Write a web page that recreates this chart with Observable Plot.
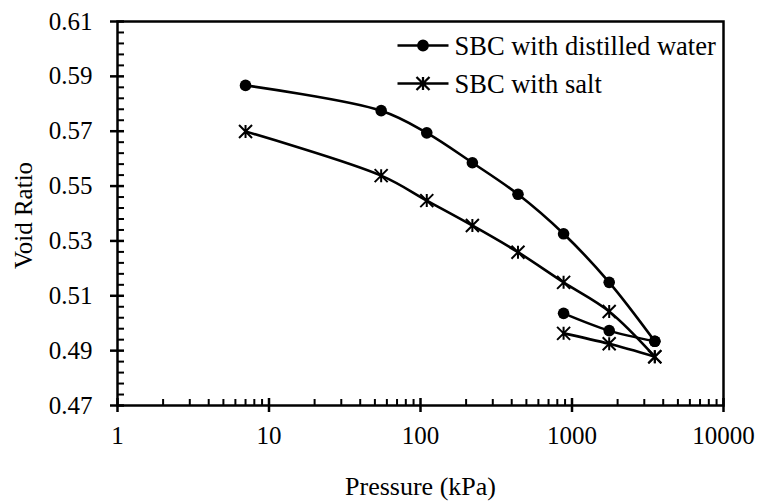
<!DOCTYPE html>
<html><head><meta charset="utf-8">
<script src="https://cdn.jsdelivr.net/npm/d3@7"></script>
<script src="https://cdn.jsdelivr.net/npm/@observablehq/plot@0.6"></script>
<style>
body{margin:0;background:#fff;}
#chart{width:760px;height:504px;}
</style></head><body><div id="chart"></div>
<script>
// ---- data ----
const pressureLoad   = [7, 55, 110, 220, 440, 880, 1760, 3520];
const pressureUnload = [3520, 1760, 880];
const distilledLoad   = [0.5867, 0.5775, 0.5694, 0.5585, 0.5470, 0.5326, 0.5149, 0.4934];
const distilledUnload = [0.4934, 0.4973, 0.5036];
const saltLoad   = [0.5699, 0.5538, 0.5447, 0.5356, 0.5259, 0.5149, 0.5043, 0.4878];
const saltUnload = [0.4878, 0.4925, 0.4963];
const seriesNames = ["SBC with distilled water", "SBC with salt"];
const xTicks = [1, 10, 100, 1000, 10000];
const yTicks = [0.47, 0.49, 0.51, 0.53, 0.55, 0.57, 0.59, 0.61];
const xLabel = "Pressure (kPa)";
const yLabel = "Void Ratio";

// ---- build table ----
const rows = [];
function add(series, branch, xs, ys) {
  xs.forEach((p, i) => rows.push({series, branch, key: series + "-" + branch, p, e: ys[i]}));
}
add(seriesNames[0], "load", pressureLoad, distilledLoad);
add(seriesNames[0], "unload", pressureUnload, distilledUnload);
add(seriesNames[1], "load", pressureLoad, saltLoad);
add(seriesNames[1], "unload", pressureUnload, saltUnload);
const distilledRows = rows.filter(d => d.series === seriesNames[0]);
const saltRows = rows.filter(d => d.series === seriesNames[1]);

const xMinor = [];
for (let k = 0; k < 4; k++) for (let m = 2; m <= 9; m++) xMinor.push(m * Math.pow(10, k));
const yMinor = d3.range(0, 36).map(i => +(0.47 + i * 0.004).toFixed(3)).filter(v => !yTicks.some(t => Math.abs(t - v) < 1e-6));

// ---- layout ----
const W = 760, H = 504, mL = 117, mR = 37, mT = 21, mB = 99;
const pw = W - mL - mR, ph = H - mT - mB;
const font = "Liberation Serif, Times New Roman, serif";

const star = {
  draw(ctx, size) {
    const r = Math.sqrt(size / Math.PI);
    ctx.moveTo(0, -r); ctx.lineTo(0, r);
    ctx.moveTo(-r, -r); ctx.lineTo(r, r);
    ctx.moveTo(-r, r); ctx.lineTo(r, -r);
  }
};
// legend glyphs: short line with the series marker in its middle
const legendDot = {
  draw(ctx) {
    ctx.moveTo(-25.5, 0); ctx.lineTo(25.5, 0);
    ctx.moveTo(4.6, 0); ctx.arc(0, 0, 4.6, 0, 2 * Math.PI);
  }
};
const legendStar = {
  draw(ctx) {
    const r = 6.5;
    ctx.moveTo(-25.5, 0); ctx.lineTo(25.5, 0);
    ctx.moveTo(0, -r); ctx.lineTo(0, r);
    ctx.moveTo(-r, -r); ctx.lineTo(r, r);
    ctx.moveTo(-r, r); ctx.lineTo(r, -r);
  }
};
const curve = d3.curveCatmullRom.alpha(0.5);
const legX = 397 - mL, legY = 45 - mT, legStep = 38;

const chart = Plot.plot({
  width: W, height: H,
  marginLeft: mL, marginRight: mR, marginTop: mT, marginBottom: mB,
  style: {fontFamily: font, fontSize: "25px", background: "white", color: "black", overflow: "visible"},
  x: {type: "log", domain: [1, 10000]},
  y: {domain: [0.47, 0.61]},
  marks: [
    Plot.axisX(xTicks, {tickSize: 7, tickPadding: 14, strokeWidth: 2.5, tickFormat: d => String(d), label: null, fontSize: 25}),
    Plot.axisY(yTicks, {tickSize: 7, tickPadding: 18, strokeWidth: 2.5, tickFormat: d3.format(".2f"), label: null, fontSize: 25}),
    Plot.tickX(xTicks, {x: d => d, insetTop: ph - 7, stroke: "black", strokeWidth: 2.5}),
    Plot.tickX(xMinor, {x: d => d, insetTop: ph - 6, stroke: "black", strokeWidth: 2}),
    Plot.tickY(yTicks, {y: d => d, insetRight: pw - 7, stroke: "black", strokeWidth: 2.5}),
    Plot.tickY(yMinor, {y: d => d, insetRight: pw - 7, stroke: "black", strokeWidth: 2}),
    Plot.frame({stroke: "black", strokeWidth: 2.5}),
    Plot.line(rows, {x: "p", y: "e", z: "key", curve, stroke: "black", strokeWidth: 2.6}),
    Plot.dot(distilledRows, {x: "p", y: "e", r: 5.8, fill: "black", stroke: "none"}),
    Plot.dot(saltRows, {x: "p", y: "e", r: 6.5, symbol: star, stroke: "black", strokeWidth: 2, fill: "none"}),
    Plot.text([yLabel], {text: d => d, frameAnchor: "left", textAnchor: "middle", dx: -94, dy: 2, rotate: -90, fontSize: 25, fill: "black"}),
    Plot.text([xLabel], {text: d => d, frameAnchor: "bottom", textAnchor: "middle", dy: 89, fontSize: 26, fill: "black"}),
    // legend
    Plot.dot([seriesNames[0]], {frameAnchor: "top-left", dx: legX + 25.5, dy: legY, symbol: legendDot, r: 5, fill: "black", stroke: "black", strokeWidth: 2.6}),
    Plot.dot([seriesNames[1]], {frameAnchor: "top-left", dx: legX + 25.5, dy: legY + legStep, symbol: legendStar, r: 5, fill: "none", stroke: "black", strokeWidth: 2.3}),
    Plot.text([seriesNames[0]], {text: d => d, frameAnchor: "top-left", textAnchor: "start", lineAnchor: "middle",
      dx: legX + 57, dy: legY + 1, fontSize: 26.5, fill: "black"}),
    Plot.text([seriesNames[1]], {text: d => d, frameAnchor: "top-left", textAnchor: "start", lineAnchor: "middle",
      dx: legX + 57, dy: legY + legStep + 1, fontSize: 26.5, fill: "black"})
  ]
});
document.getElementById("chart").appendChild(chart);
</script></body></html>
